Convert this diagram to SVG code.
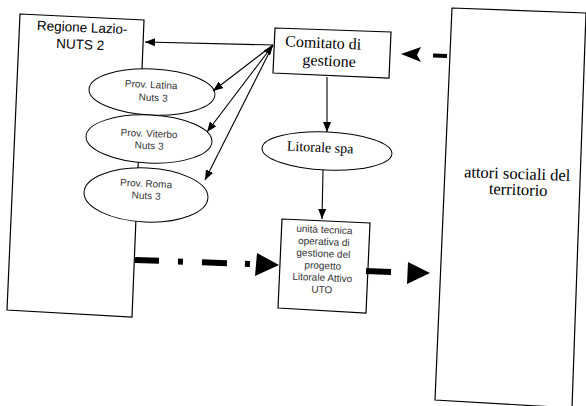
<svg xmlns="http://www.w3.org/2000/svg" width="586" height="406" viewBox="0 0 586 406">
<defs>
<style>
.box{fill:#fff;stroke:#000;stroke-width:1.2}
.ell{fill:#fff;stroke:#000;stroke-width:1}
.sans{font-family:"Liberation Sans",Arial,sans-serif;fill:#000;text-anchor:middle}
.small{font-family:"Liberation Sans",Arial,sans-serif;font-size:10px;fill:#333;text-anchor:middle}
.serif{font-family:"Liberation Serif","Times New Roman",serif;fill:#000;text-anchor:middle}
.thin{stroke:#000;stroke-width:1.1;fill:none}
.thick{stroke:#000;stroke-width:6;fill:none}
.head{fill:#000}
</style>
<marker id="arr" viewBox="0 0 10 8" refX="10" refY="4" markerWidth="10" markerHeight="8" markerUnits="userSpaceOnUse" orient="auto-start-reverse">
<path d="M0,0 L10,4 L0,8 z" fill="#000"/>
</marker>
</defs>
<rect width="586" height="406" fill="#fff"/>

<g id="regione">
<polygon class="box" points="20,14 144,20 132,317 7,310"/>
<text class="sans" font-size="13.5" x="82" y="32" transform="rotate(2.5 82 32)">Regione Lazio-</text>
<text class="sans" font-size="13.5" x="80" y="49" transform="rotate(2.5 80 49)">NUTS 2</text>
</g>

<g id="attori">
<polygon class="box" points="452,8 586,13 572,408 435,400"/>
<text class="serif" font-size="16.5" x="517" y="179" transform="rotate(2 517 179)">attori sociali del</text>
<text class="serif" font-size="16.5" x="518" y="195" transform="rotate(2 518 195)">territorio</text>
</g>

<g id="comitato">
<polygon class="box" points="275,28 391,32 389,78 273,73"/>
<text class="serif" font-size="16" x="323" y="48" transform="rotate(2.5 323 48)">Comitato di</text>
<text class="serif" font-size="16" x="329" y="66" transform="rotate(2.5 329 66)">gestione</text>
</g>

<g id="prov-latina">
<ellipse class="ell" cx="152" cy="92" rx="63" ry="23" transform="rotate(2.5 152 92)"/>
<text class="small" x="151" y="88" transform="rotate(2.5 151 88)">Prov. Latina</text>
<text class="small" x="153" y="101" transform="rotate(2.5 153 101)">Nuts 3</text>
</g>

<g id="prov-viterbo">
<ellipse class="ell" cx="149" cy="139" rx="63" ry="24" transform="rotate(2.5 149 139)"/>
<text class="small" x="149" y="137" transform="rotate(2.5 149 137)">Prov. Viterbo</text>
<text class="small" x="149" y="149" transform="rotate(2.5 149 149)">Nuts 3</text>
</g>

<g id="prov-roma">
<ellipse class="ell" cx="146" cy="195" rx="62" ry="27" transform="rotate(2.5 146 195)"/>
<text class="small" x="146" y="187" transform="rotate(2.5 146 187)">Prov. Roma</text>
<text class="small" x="146" y="199" transform="rotate(2.5 146 199)">Nuts 3</text>
</g>

<g id="litorale">
<ellipse class="ell" cx="327" cy="151" rx="65" ry="19" transform="rotate(2.5 327 151)"/>
<text class="serif" font-size="14" x="320" y="152" transform="rotate(2.5 320 152)">Litorale spa</text>
</g>

<g id="uto">
<polygon class="box" points="282,219 370,223 366,313 278,308"/>
<g transform="rotate(2.5 323 262)">
<text class="small" x="323" y="233">unità tecnica</text>
<text class="small" x="323" y="245">operativa di</text>
<text class="small" x="323" y="257">gestione del</text>
<text class="small" x="323" y="269">progetto</text>
<text class="small" x="323" y="281">Litorale Attivo</text>
<text class="small" x="323" y="293">UTO</text>
</g>
</g>

<g id="connectors">
<line class="thin" x1="273" y1="45" x2="145" y2="42" marker-end="url(#arr)"/>
<line class="thin" x1="273" y1="45" x2="213" y2="91" marker-end="url(#arr)"/>
<line class="thin" x1="273" y1="45" x2="207" y2="132" marker-start="url(#arr)" marker-end="url(#arr)"/>
<line class="thin" x1="273" y1="45" x2="205" y2="180" marker-end="url(#arr)"/>
<line class="thin" x1="327" y1="77" x2="327" y2="132" marker-end="url(#arr)"/>
<line class="thin" x1="323" y1="170" x2="322" y2="219" marker-end="url(#arr)"/>
<path class="thick" d="M135,260 L251,264" stroke-dasharray="24 19 5 19 25 18 5 20"/>
<polygon class="head" points="257,253 279,265 255,276"/>
<line class="thick" x1="366" y1="271" x2="391" y2="272"/>
<polygon class="head" points="408,262 430,273 407,284"/>
<line x1="433" y1="55.5" x2="447" y2="56" stroke="#000" stroke-width="4"/>
<polygon class="head" points="401,54 421,47 417,55 421,62"/>
</g>
</svg>
